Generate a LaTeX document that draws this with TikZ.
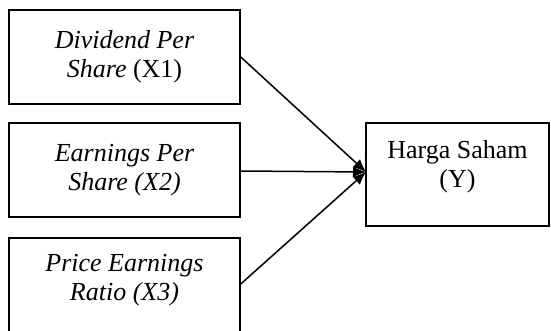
\documentclass[tikz,border=0pt]{standalone}
\usepackage{fontspec}
\setmainfont{Liberation Serif}
\usetikzlibrary{arrows.meta}
\begin{document}
\begin{tikzpicture}[x=0.5pt,y=-0.5pt,
  box/.style={draw=black,line width=0.75pt,rectangle,inner sep=0pt,align=center,
    font=\fontsize{13}{14.5}\selectfont},
  conn/.style={line width=0.75pt,-{Latex[length=6.5pt,width=5.5pt]}}]
\useasboundingbox (0,0) rectangle (551,331);
\clip (0,0) rectangle (551,331);
\fill[white] (0,0) rectangle (551,331);
\node[box,minimum width=115.5pt,minimum height=47pt] (x1) at (124.5,57)
  {\textit{Dividend Per}\\\textit{Share} (X1)};
\node[box,minimum width=115.5pt,minimum height=47pt] (x2) at (124.5,170)
  {\textit{Earnings Per}\\\textit{Share (X2)}};
\node[box,minimum width=115.5pt,minimum height=48pt] (x3) at (124.5,286) {};
\node[font=\fontsize{13}{14.5}\selectfont,align=center] (x3t) at (124.5,280)
  {\textit{Price Earnings}\\\textit{Ratio (X3)}};
\node[box,minimum width=91.5pt,minimum height=51.5pt] (y) at (457.5,174.5) {};
\node[font=\fontsize{13}{14.5}\selectfont,align=center] (yt) at (457.5,167)
  {Harga Saham\\(Y)};
\coordinate (tip) at (366,172);
\draw[conn] (x1.east |- 0,57) -- (tip);
\draw[conn] (x2.east |- 0,171) -- (tip);
\draw[conn] (x3.east |- 0,284) -- (tip);
\end{tikzpicture}
\end{document}
